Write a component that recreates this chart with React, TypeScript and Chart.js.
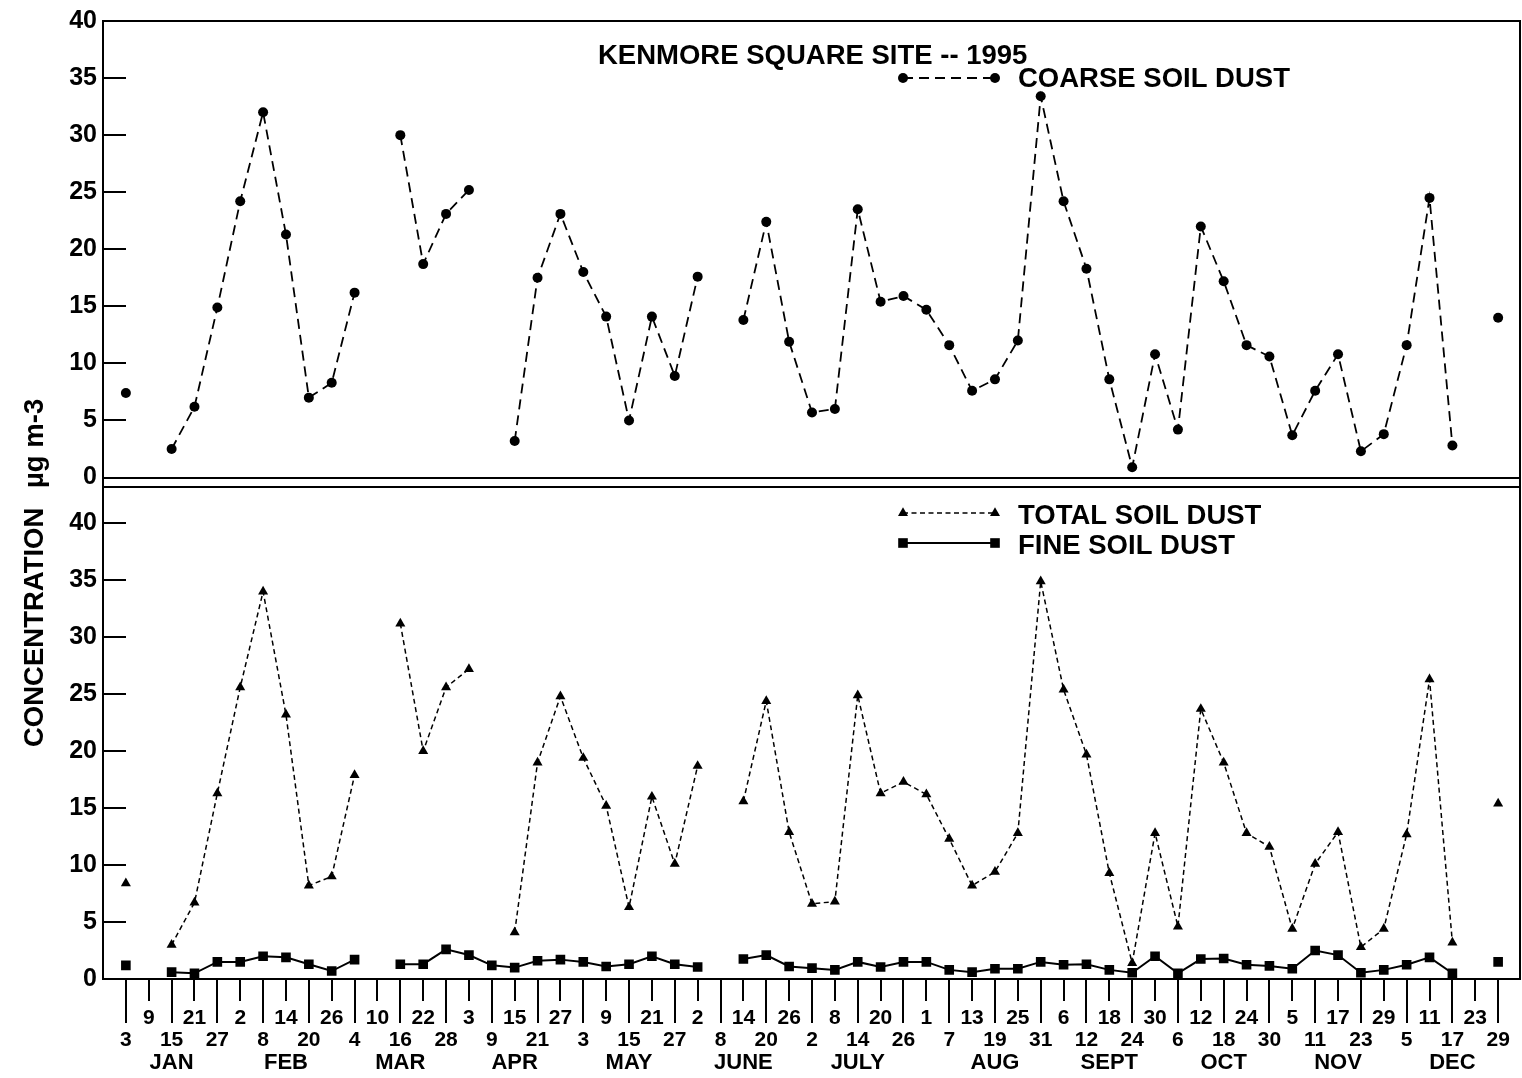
import React, { useEffect, useRef } from 'react';
import { Chart, registerables } from 'chart.js';

Chart.register(...registerables);

const FONT = "'Liberation Sans', Arial, Helvetica, sans-serif";

// Sampling days (every 6th day, 1995)
const dayLabels = [
  '3', '9', '15', '21', '27',
  '2', '8', '14', '20', '26',
  '4', '10', '16', '22', '28',
  '3', '9', '15', '21', '27',
  '3', '9', '15', '21', '27',
  '2', '8', '14', '20', '26',
  '2', '8', '14', '20', '26',
  '1', '7', '13', '19', '25', '31',
  '6', '12', '18', '24', '30',
  '6', '12', '18', '24', '30',
  '5', '11', '17', '23', '29',
  '5', '11', '17', '23', '29',
];

const monthNames = ['JAN', 'FEB', 'MAR', 'APR', 'MAY', 'JUNE', 'JULY', 'AUG', 'SEPT', 'OCT', 'NOV', 'DEC'];
const monthCenters = [2, 7, 12, 17, 22, 27, 32, 38, 43, 48, 53, 58];

const yTickValues = [0, 5, 10, 15, 20, 25, 30, 35, 40];

const coarseSoil = [
  7.4, null, 2.5, 6.2, 14.9,
  24.2, 32.0, 21.3, 7.0, 8.3,
  16.2, null, 30.0, 18.7, 23.1,
  25.2, null, 3.2, 17.5, 23.1,
  18.0, 14.1, 5.0, 14.1, 8.9,
  17.6, null, 13.8, 22.4, 11.9,
  5.7, 6.0, 23.5, 15.4, 15.9,
  14.7, 11.6, 7.6, 8.6, 12.0, 33.4,
  24.2, 18.3, 8.6, 0.9, 10.8,
  4.2, 22.0, 17.2, 11.6, 10.6,
  3.7, 7.6, 10.8, 2.3, 3.8,
  11.6, 24.5, 2.8, null, 14.0,
];

const totalSoil = [
  8.4, null, 3.0, 6.7, 16.3,
  25.6, 34.0, 23.2, 8.2, 9.0,
  17.9, null, 31.2, 20.0, 25.6,
  27.2, null, 4.1, 19.0, 24.8,
  19.4, 15.2, 6.3, 16.0, 10.1,
  18.7, null, 15.6, 24.4, 12.9,
  6.6, 6.8, 24.9, 16.3, 17.3,
  16.2, 12.3, 8.2, 9.4, 12.8, 34.9,
  25.4, 19.7, 9.3, 1.4, 12.8,
  4.6, 23.7, 19.0, 12.8, 11.6,
  4.4, 10.1, 12.9, 2.8, 4.4,
  12.7, 26.3, 3.2, null, 15.4,
];

const fineSoil = [
  1.2, null, 0.6, 0.5, 1.5,
  1.5, 2.0, 1.9, 1.3, 0.7,
  1.7, null, 1.3, 1.3, 2.6,
  2.1, 1.2, 1.0, 1.6, 1.7,
  1.5, 1.1, 1.3, 2.0, 1.3,
  1.05, null, 1.75, 2.1, 1.1,
  0.95, 0.8, 1.5, 1.05, 1.5,
  1.5, 0.8, 0.6, 0.9, 0.9, 1.5,
  1.25, 1.3, 0.8, 0.55, 2.0,
  0.5, 1.75, 1.8, 1.25, 1.15,
  0.9, 2.5, 2.1, 0.55, 0.8,
  1.25, 1.9, 0.5, null, 1.5,
];

const COARSE_DASH = [10, 6];
const TOTAL_DASH = [5, 3.5];

function drawMarker(ctx: CanvasRenderingContext2D, style: string, x: number, y: number, r: number) {
  ctx.beginPath();
  if (style === 'circle') {
    ctx.arc(x, y, r, 0, Math.PI * 2);
  } else if (style === 'triangle') {
    ctx.moveTo(x, y - r);
    ctx.lineTo(x + 0.866 * r, y + 0.5 * r);
    ctx.lineTo(x - 0.866 * r, y + 0.5 * r);
    ctx.closePath();
  } else {
    const s = r * Math.SQRT1_2;
    ctx.rect(x - s, y - s, 2 * s, 2 * s);
  }
  ctx.fill();
}

export default function App() {
  const ref = useRef<HTMLCanvasElement>(null);

  useEffect(() => {
    const canvas = ref.current;
    if (!canvas) return;
    const toPts = (arr: (number | null)[]) => arr.map((v, i) => ({ x: i, y: v }));

    const framePlugin = {
      id: 'frame',
      afterDraw(chart: any) {
        const ctx: CanvasRenderingContext2D = chart.ctx;
        const area = chart.chartArea;
        const yTop = chart.scales.yTop;
        const yBot = chart.scales.yBot;
        const xs = chart.scales.x;
        const L = Math.round(area.left);
        const R = Math.round(area.right) - 1;
        const top = Math.round(yTop.top);
        const z0 = Math.round(yTop.getPixelForValue(0));
        const bTop = Math.round(yBot.top);
        const bZero = Math.round(yBot.getPixelForValue(0));

        ctx.save();
        ctx.strokeStyle = '#000';
        ctx.lineWidth = 2;
        ctx.setLineDash([]);
        ctx.beginPath();
        ctx.moveTo(L, top - 1); ctx.lineTo(L, bZero + 1);
        ctx.moveTo(R, top - 1); ctx.lineTo(R, bZero + 1);
        ctx.moveTo(L, top); ctx.lineTo(R, top);
        ctx.moveTo(L, z0); ctx.lineTo(R, z0);
        ctx.moveTo(L, bTop); ctx.lineTo(R + 1, bTop);
        ctx.moveTo(L, bZero); ctx.lineTo(R, bZero);
        // inward y ticks
        [yTop, yBot].forEach((sc: any) => {
          yTickValues.forEach((v) => {
            const py = Math.round(sc.getPixelForValue(v));
            ctx.moveTo(L, py); ctx.lineTo(L + 23, py);
          });
        });
        // x tick marks (alternating lengths)
        dayLabels.forEach((_, i) => {
          const px = Math.round(xs.getPixelForValue(i));
          const len = i % 2 === 0 ? 44 : 22;
          ctx.moveTo(px, bZero); ctx.lineTo(px, bZero + len);
        });
        ctx.stroke();

        // Title
        ctx.fillStyle = '#000';
        ctx.font = `bold 27.5px ${FONT}`;
        ctx.textAlign = 'left';
        ctx.textBaseline = 'alphabetic';
        ctx.fillText('KENMORE SQUARE SITE -- 1995', 598, 64);

        // Legends
        const legend = (y: number, textY: number, label: string, style: string, r: number, dash: number[], lw: number) => {
          const x1 = 903, x2 = 995;
          ctx.lineWidth = lw;
          ctx.setLineDash(dash);
          ctx.beginPath();
          ctx.moveTo(x1, y); ctx.lineTo(x2, y);
          ctx.stroke();
          ctx.setLineDash([]);
          drawMarker(ctx, style, x1, y, r);
          drawMarker(ctx, style, x2, y, r);
          ctx.font = `bold 27.5px ${FONT}`;
          ctx.textAlign = 'left';
          ctx.fillText(label, 1018, textY);
        };
        legend(78, 87, 'COARSE SOIL DUST', 'circle', 5, COARSE_DASH, 1.8);
        legend(513, 524, 'TOTAL SOIL DUST', 'triangle', 5.8, TOTAL_DASH, 1.5);
        legend(543, 554, 'FINE SOIL DUST', 'rect', 6.8, [], 2);

        // Y-axis title (rotated)
        ctx.font = `bold 27.5px ${FONT}`;
        ctx.textAlign = 'left';
        ctx.save();
        ctx.translate(43, 747);
        ctx.rotate(-Math.PI / 2);
        ctx.fillText('CONCENTRATION', 0, 0);
        ctx.restore();
        ctx.save();
        ctx.translate(43, 488);
        ctx.rotate(-Math.PI / 2);
        ctx.fillText('\u00B5g m-3', 0, 0);
        ctx.restore();
        ctx.restore();
      },
    };

    const tickFont = { family: FONT, size: 25, weight: 'bold' as const };
    const hiddenGrid = { display: false, drawTicks: false, tickLength: 0 };
    const noSidePad = (s: any) => { s.paddingLeft = 0; s.paddingRight = 0; };

    const chart = new Chart(canvas, {
      type: 'line',
      data: {
        datasets: [
          {
            label: 'COARSE SOIL DUST',
            data: toPts(coarseSoil),
            xAxisID: 'x',
            yAxisID: 'yTop',
            borderColor: '#000',
            backgroundColor: '#000',
            borderWidth: 1.8,
            borderDash: COARSE_DASH,
            pointStyle: 'circle',
            pointRadius: 5,
            pointBorderWidth: 0,
            pointBackgroundColor: '#000',
            spanGaps: false,
            tension: 0,
          },
          {
            label: 'TOTAL SOIL DUST',
            data: toPts(totalSoil),
            xAxisID: 'x',
            yAxisID: 'yBot',
            borderColor: '#000',
            backgroundColor: '#000',
            borderWidth: 1.5,
            borderDash: TOTAL_DASH,
            pointStyle: 'triangle',
            pointRadius: 5.8,
            pointBorderWidth: 0,
            pointBackgroundColor: '#000',
            spanGaps: false,
            tension: 0,
          },
          {
            label: 'FINE SOIL DUST',
            data: toPts(fineSoil),
            xAxisID: 'x',
            yAxisID: 'yBot',
            borderColor: '#000',
            backgroundColor: '#000',
            borderWidth: 2,
            pointStyle: 'rect',
            pointRadius: 6.8,
            pointBorderWidth: 0,
            pointBackgroundColor: '#000',
            spanGaps: false,
            tension: 0,
          },
        ],
      },
      options: {
        responsive: false,
        animation: false,
        devicePixelRatio: 1,
        layout: { autoPadding: false, padding: { top: 18, right: 1, bottom: 0, left: 0 } },
        plugins: { legend: { display: false }, tooltip: { enabled: false }, title: { display: false } },
        scales: {
          x: {
            type: 'linear',
            position: 'bottom',
            min: -1,
            max: 61,
            afterBuildTicks: (s: any) => { s.ticks = dayLabels.map((_, i) => ({ value: i })); },
            afterFit: (s: any) => { s.height = 70; noSidePad(s); },
            grid: hiddenGrid,
            border: { display: false },
            ticks: {
              autoSkip: false,
              maxRotation: 0,
              minRotation: 0,
              padding: 28,
              color: '#000',
              font: { family: FONT, size: 21, weight: 'bold', lineHeight: 1.05 },
              callback: (_v: any, i: number) => (i % 2 === 0 ? ['', dayLabels[i]] : dayLabels[i]),
            },
          },
          xMonth: {
            type: 'linear',
            position: 'bottom',
            min: -1,
            max: 61,
            afterBuildTicks: (s: any) => { s.ticks = monthCenters.map((v) => ({ value: v })); },
            afterFit: (s: any) => { s.height = 29; noSidePad(s); },
            grid: hiddenGrid,
            border: { display: false },
            ticks: {
              autoSkip: false,
              maxRotation: 0,
              minRotation: 0,
              padding: 3,
              color: '#000',
              font: { family: FONT, size: 22, weight: 'bold', lineHeight: 1.0 },
              callback: (_v: any, i: number) => monthNames[i],
            },
          },
          yBot: {
            type: 'linear',
            position: 'left',
            stack: 'panels',
            stackWeight: 494,
            min: 0,
            max: 43.22,
            afterBuildTicks: (s: any) => { s.ticks = yTickValues.map((v) => ({ value: v })); },
            afterFit: (s: any) => { s.width = 103; },
            grid: hiddenGrid,
            border: { display: false },
            ticks: { autoSkip: false, padding: 6, color: '#000', font: tickFont },
          },
          yTop: {
            type: 'linear',
            position: 'left',
            stack: 'panels',
            stackWeight: 467,
            min: -0.79,
            max: 40,
            afterBuildTicks: (s: any) => { s.ticks = yTickValues.map((v) => ({ value: v })); },
            afterFit: (s: any) => { s.width = 103; },
            grid: hiddenGrid,
            border: { display: false },
            ticks: { autoSkip: false, padding: 6, color: '#000', font: tickFont },
          },
        },
      } as any,
      plugins: [framePlugin],
    });

    return () => chart.destroy();
  }, []);

  return (
    <div style={{ position: 'absolute', left: 0, top: 0, width: 1522, height: 1078, background: '#fff' }}>
      <canvas ref={ref} width={1522} height={1078} style={{ display: 'block' }} />
    </div>
  );
}
